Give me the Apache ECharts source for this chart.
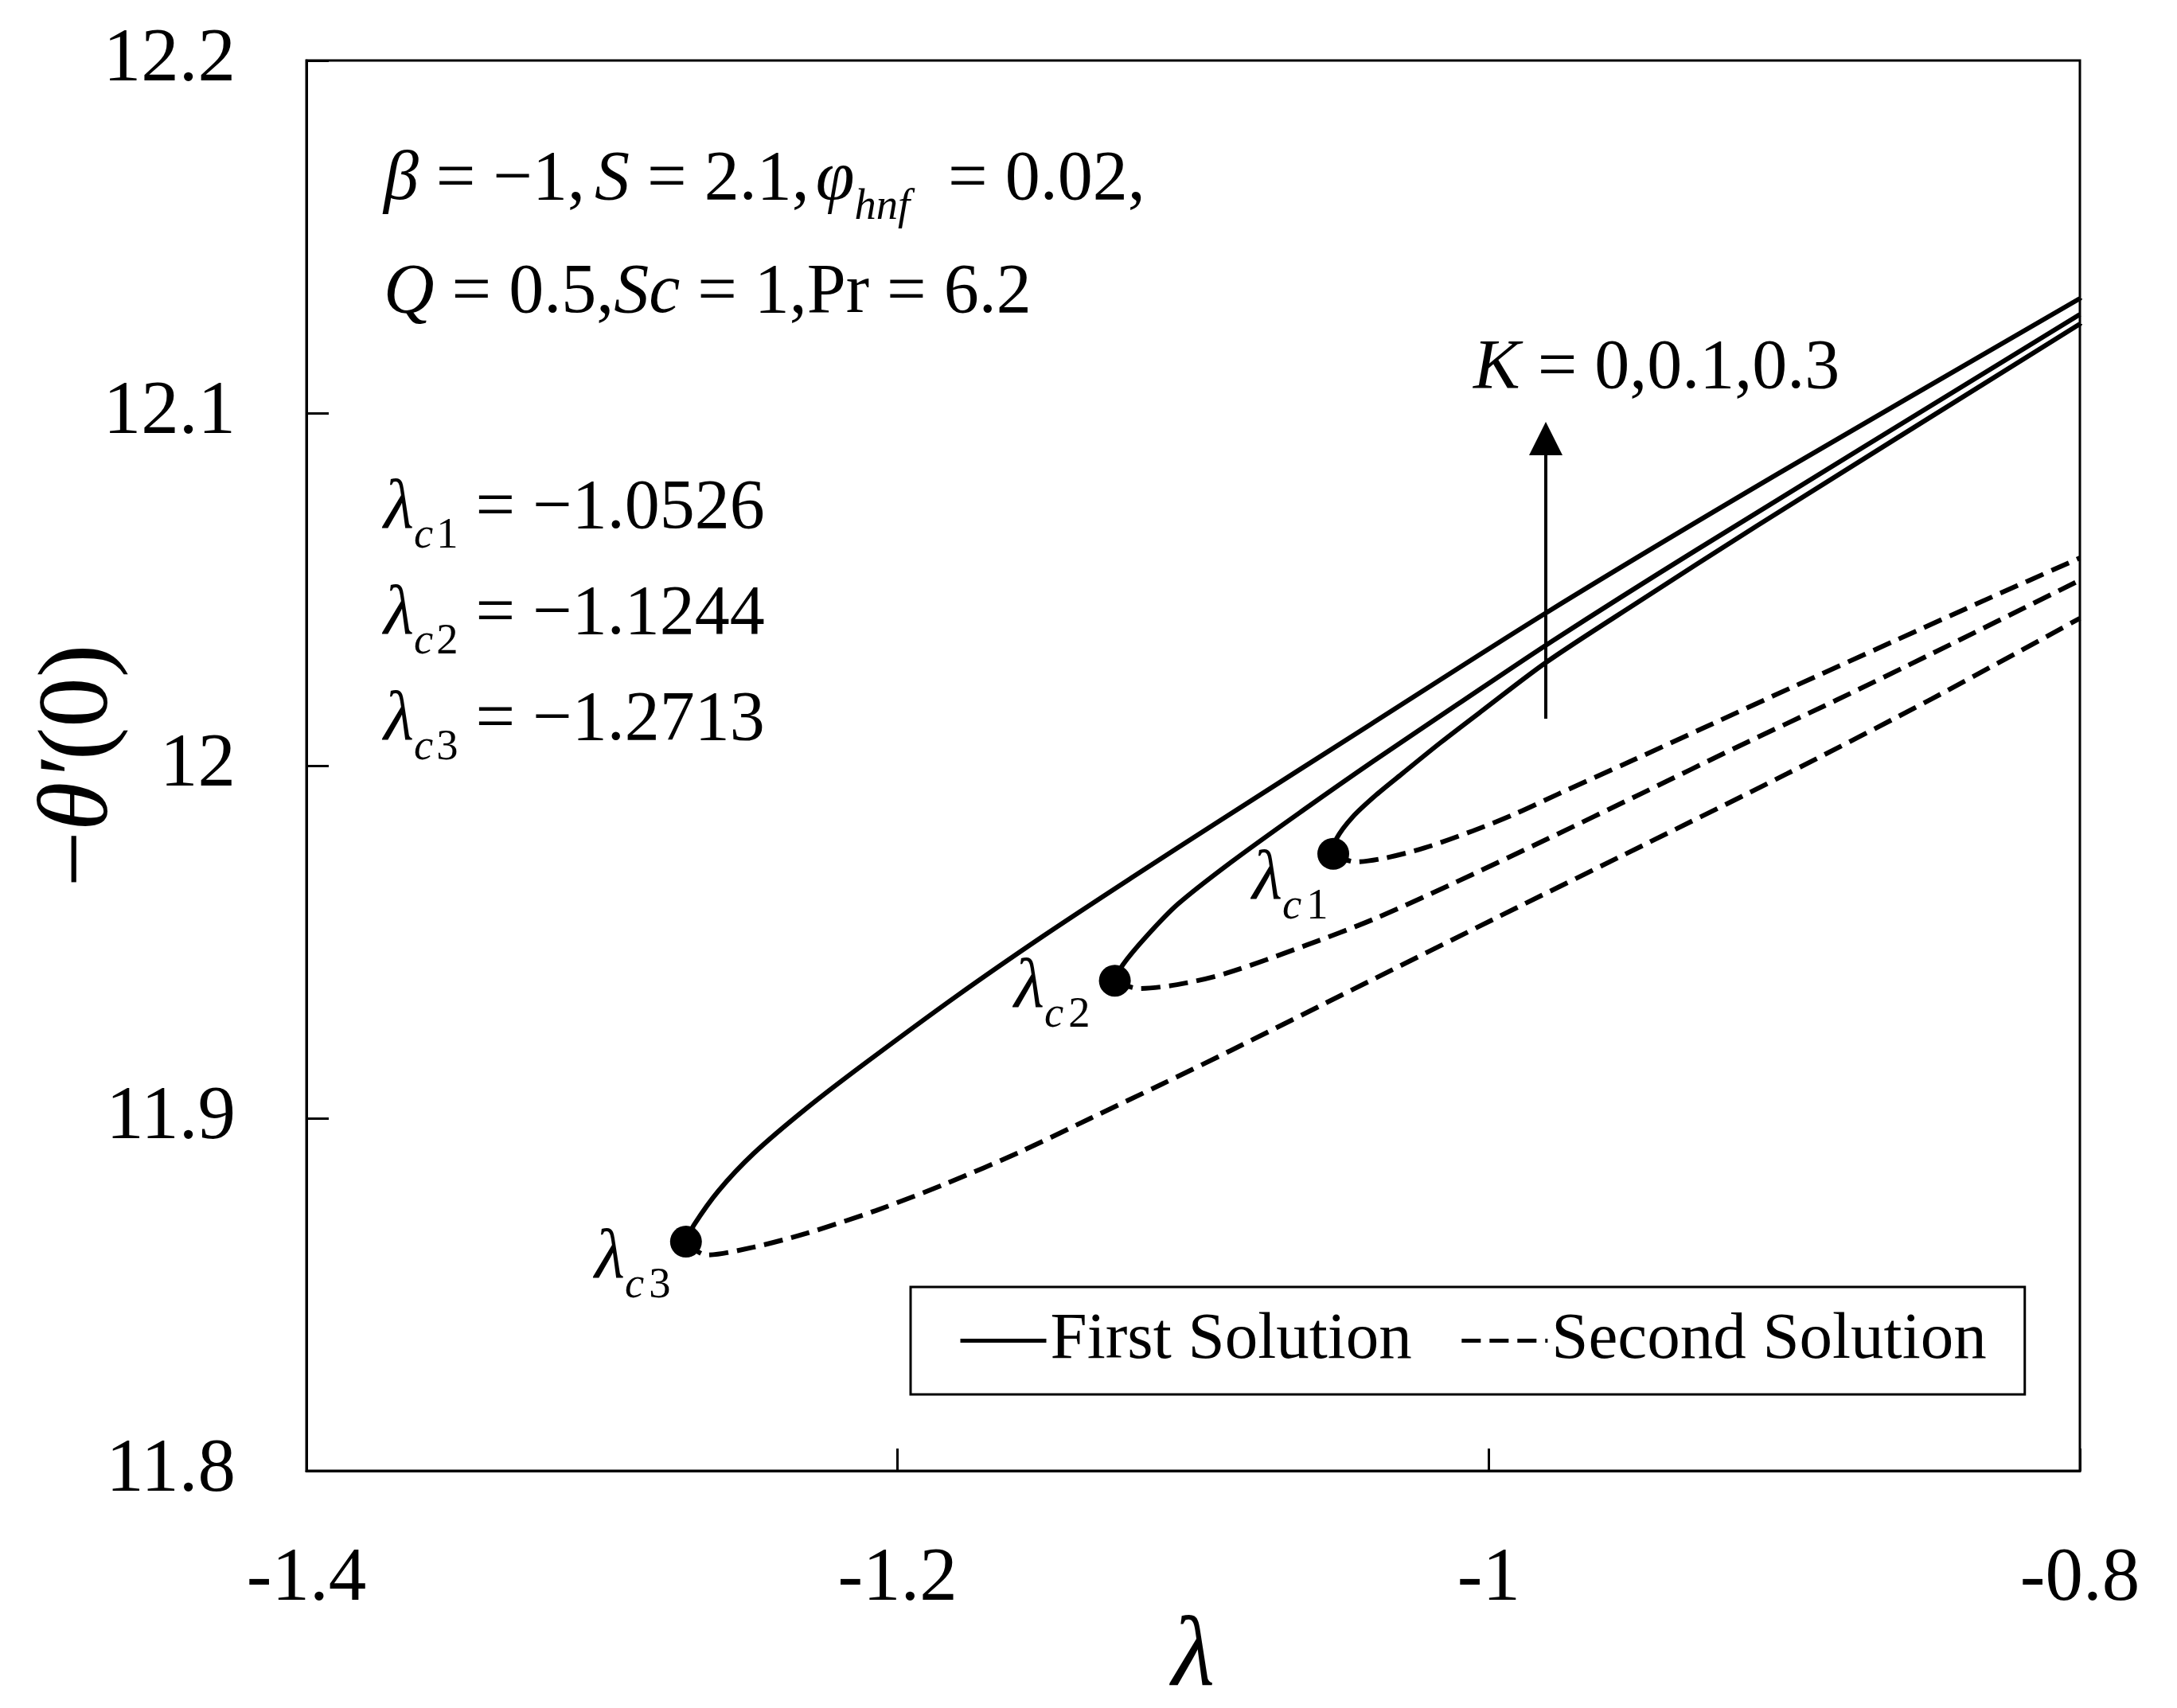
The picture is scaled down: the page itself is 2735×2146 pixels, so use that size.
<!DOCTYPE html>
<html>
<head>
<meta charset="utf-8">
<script src="https://cdn.jsdelivr.net/npm/echarts@6/dist/echarts.min.js"></script>
<style>
  html, body { margin: 0; padding: 0; background: #fff; }
  #chart { width: 2735px; height: 2146px; }
</style>
</head>
<body>
<div id="chart"></div>
<script>
// critical points (turning points), as placed in the figure
const critLambda = [-1.0526, -1.1265, -1.2716];
const critTheta = [11.975, 11.939, 11.865];

// first solution (upper branches)
const firstLambdaC1 = [-1.0526, -1.0515, -1.0461, -1.0378, -1.0289, -1.0162, -1.0022, -0.9804, -0.95, -0.9093, -0.8];
const firstThetaC1 = [11.975, 11.9793, 11.9854, 11.9919, 11.998, 12.0066, 12.0156, 12.0294, 12.0461, 12.068, 12.1253];
const firstLambdaC2 = [-1.1265, -1.1238, -1.116, -1.1052, -1.0872, -1.0629, -1.039, -1.0107, -0.9784, -0.9299, -0.8];
const firstThetaC2 = [11.939, 11.9435, 11.9514, 11.9607, 11.9726, 11.9873, 12.0013, 12.0173, 12.0354, 12.0611, 12.128];
const firstLambdaC3 = [-1.2716, -1.2689, -1.2606, -1.2487, -1.2307, -1.211, -1.1798, -1.1507, -1.1205, -1.0906, -1.04, -0.9797, -0.9021, -0.8];
const firstThetaC3 = [11.865, 11.8697, 11.8794, 11.89, 11.9029, 11.9156, 11.9348, 11.9517, 11.9684, 11.9846, 12.0117, 12.0438, 12.0828, 12.1325];

// second solution (lower branches)
const secondLambdaC1 = [-1.0526, -1.0453, -1.0351, -1.0216, -1.0054, -0.992, -0.9766, -0.9516, -0.9276, -0.8977, -0.8632, -0.8304, -0.8];
const secondThetaC1 = [11.975, 11.9727, 11.9738, 11.9767, 11.9815, 11.986, 11.9919, 12.0014, 12.0106, 12.0221, 12.0352, 12.0476, 12.0589];
const secondLambdaC2 = [-1.1265, -1.1186, -1.1054, -1.0889, -1.062, -1.0391, -1.0133, -0.9807, -0.9478, -0.9152, -0.8826, -0.85, -0.8];
const secondThetaC2 = [11.939, 11.9368, 11.9379, 11.9411, 11.949, 11.9564, 11.9661, 11.979, 11.9923, 12.0056, 12.0185, 12.0318, 12.0526];
const secondLambdaC3 = [-1.2716, -1.2648, -1.2489, -1.2311, -1.2074, -1.1829, -1.159, -1.1347, -1.1105, -1.0873, -1.0458, -0.9968, -0.9478, -0.8991, -0.85, -0.8];
const secondThetaC3 = [11.865, 11.8612, 11.8634, 11.8673, 11.8738, 11.8817, 11.8903, 11.9, 11.9097, 11.9192, 11.9366, 11.9571, 11.9774, 11.9977, 12.019, 12.0418];

// arrow for K (in data units)
const arrowLambda = -0.9807;
const arrowFrom = 12.0133;
const arrowTo = 12.0928;

const FONT = '"Liberation Serif", "Times New Roman", serif';
const zip = (xs, ys) => xs.map((x, i) => [x, ys[i]]);

const solidStyle = { color: '#000', width: 6, type: 'solid' };
const dashStyle = { color: '#000', width: 6, type: [24, 11] };

function branch(name, xs, ys, style) {
  return {
    name: name,
    type: 'line',
    data: zip(xs, ys),
    smooth: 0.3,
    symbol: 'none',
    color: '#000',
    lineStyle: style,
    silent: true,
    z: 3
  };
}

// text with italic runs and subscripts, placed by baseline
const measureCtx = document.createElement('canvas').getContext('2d');
function measure(t, font) {
  measureCtx.font = font;
  return measureCtx.measureText(t).width;
}
function mathLine(x, baseline, runs, size) {
  const els = [];
  let cx = x;
  runs.forEach(r => {
    const fs = r.sub ? size * 0.62 : size;
    const font = (r.it ? 'italic ' : '') + fs + 'px ' + FONT;
    const y = baseline + (r.sub ? size * 0.25 : 0) - fs * 0.34;
    els.push({
      type: 'text', x: cx, y: y, silent: true, z: 10,
      style: { text: r.t, font: font, fill: '#000', align: 'left', verticalAlign: 'middle' }
    });
    cx += measure(r.t, font) + (r.gap || 0);
  });
  return els;
}

const TS = 88;
const annotations = [].concat(
  mathLine(482, 257, [
    { t: 'β', it: true }, { t: ' = −1,', gap: 12 }, { t: 'S', it: true }, { t: ' = 2.1,', gap: 8 },
    { t: 'φ', it: true }, { t: 'hnf', it: true, sub: true, gap: 26 }, { t: ' = 0.02,' }
  ], TS),
  mathLine(482, 399, [
    { t: 'Q', it: true }, { t: ' = 0.5,' }, { t: 'Sc', it: true }, { t: ' = 1,' },
    { t: 'Pr' }, { t: ' = 6.2' }
  ], TS),
  mathLine(482, 670, [{ t: 'λ', it: true }, { t: 'c', it: true, sub: true, gap: 4 }, { t: '1', sub: true }, { t: ' = −1.0526' }], TS),
  mathLine(482, 803, [{ t: 'λ', it: true }, { t: 'c', it: true, sub: true, gap: 4 }, { t: '2', sub: true }, { t: ' = −1.1244' }], TS),
  mathLine(482, 936, [{ t: 'λ', it: true }, { t: 'c', it: true, sub: true, gap: 4 }, { t: '3', sub: true }, { t: ' = −1.2713' }], TS),
  mathLine(1851, 494, [{ t: 'K', it: true }, { t: ' = 0,0.1,0.3' }], TS),
  mathLine(1573, 1136, [{ t: 'λ', it: true }, { t: 'c', it: true, sub: true, gap: 6 }, { t: '1', sub: true }], TS),
  mathLine(1274, 1272, [{ t: 'λ', it: true }, { t: 'c', it: true, sub: true, gap: 6 }, { t: '2', sub: true }], TS),
  mathLine(747, 1612, [{ t: 'λ', it: true }, { t: 'c', it: true, sub: true, gap: 6 }, { t: '3', sub: true }], TS)
);

const chart = echarts.init(document.getElementById('chart'));

const option = {
  backgroundColor: '#fff',
  animation: false,
  grid: {
    left: 385, right: 122, top: 76, bottom: 298,
    show: true, borderColor: '#000', borderWidth: 3,
    containLabel: false, outerBoundsMode: 'none'
  },
  legend: {
    data: ['First Solution', 'Second Solution'],
    left: 1144, top: 1617,
    orient: 'horizontal',
    itemWidth: 108, itemHeight: 30, itemGap: 60,
    padding: [26, 48, 26, 60],
    borderColor: '#000', borderWidth: 3,
    itemStyle: { opacity: 0 },
    lineStyle: { width: 5 },
    textStyle: { fontFamily: FONT, fontSize: 83, color: '#000' },
    selectedMode: false
  },
  xAxis: {
    type: 'value',
    min: -1.4, max: -0.8, interval: 0.2,
    splitLine: { show: false },
    axisLine: { lineStyle: { color: '#000', width: 3 } },
    axisTick: { inside: true, length: 28, lineStyle: { color: '#000', width: 3 } },
    axisLabel: { margin: 90, fontFamily: FONT, fontSize: 95, color: '#000' },
    name: 'λ',
    nameLocation: 'middle',
    nameGap: 174,
    nameMoveOverlap: false,
    nameTextStyle: { fontFamily: FONT, fontStyle: 'italic', fontSize: 125, color: '#000' }
  },
  yAxis: {
    type: 'value',
    min: 11.8, max: 12.2, interval: 0.1,
    splitLine: { show: false },
    axisLine: { lineStyle: { color: '#000', width: 3 } },
    axisTick: { inside: true, length: 28, lineStyle: { color: '#000', width: 3 } },
    axisLabel: { margin: 89, fontFamily: FONT, fontSize: 95, color: '#000' },
    name: '{m|−}{t|θ′}{m|(0)}',
    nameLocation: 'middle',
    nameRotate: 90,
    nameGap: 221,
    nameMoveOverlap: false,
    nameTextStyle: {
      fontFamily: FONT, fontSize: 125, color: '#000',
      rich: {
        m: { fontFamily: FONT, fontSize: 125, color: '#000' },
        t: { fontFamily: FONT, fontSize: 125, fontStyle: 'italic', color: '#000' }
      }
    }
  },
  series: [
    branch('First Solution', firstLambdaC1, firstThetaC1, solidStyle),
    branch('First Solution', firstLambdaC2, firstThetaC2, solidStyle),
    branch('First Solution', firstLambdaC3, firstThetaC3, solidStyle),
    branch('Second Solution', secondLambdaC1, secondThetaC1, dashStyle),
    branch('Second Solution', secondLambdaC2, secondThetaC2, dashStyle),
    branch('Second Solution', secondLambdaC3, secondThetaC3, dashStyle),
    {
      name: 'critical',
      type: 'scatter',
      data: zip(critLambda, critTheta),
      symbol: 'circle',
      symbolSize: 40,
      itemStyle: { color: '#000', opacity: 1 },
      silent: true,
      z: 5,
      markLine: {
        silent: true,
        symbol: ['none', 'triangle'],
        symbolSize: 42,
        label: { show: false },
        lineStyle: { color: '#000', width: 4, type: 'solid', opacity: 1 },
        data: [[{ coord: [arrowLambda, arrowFrom] }, { coord: [arrowLambda, arrowTo] }]]
      }
    }
  ],
  graphic: annotations
};

chart.setOption(option);
</script>
</body>
</html>
